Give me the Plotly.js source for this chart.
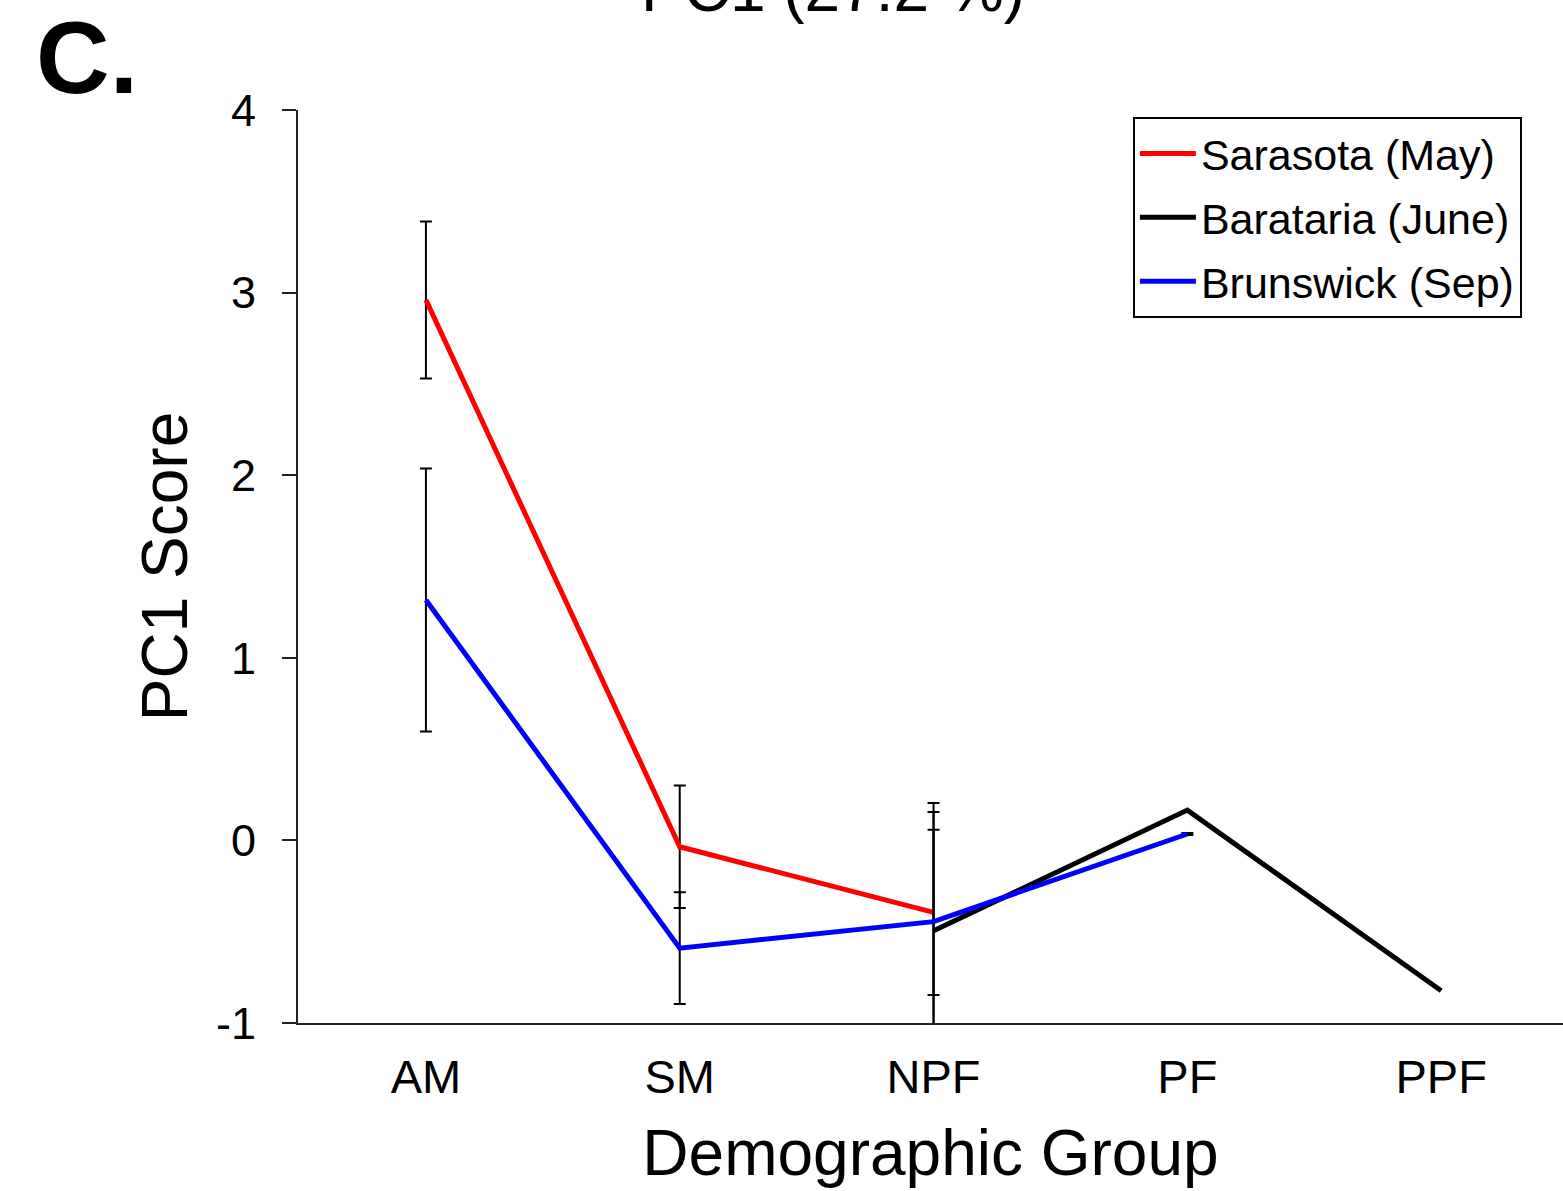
<!DOCTYPE html>
<html>
<head>
<meta charset="utf-8">
<script src="https://cdn.plot.ly/plotly-3.0.1.min.js"></script>
<style>
  html, body { margin: 0; padding: 0; background: #fff; }
  #chart { width: 1563px; height: 1191px; }
</style>
</head>
<body>
<div id="chart"></div>
<script>
// Category order on the x axis
const groups = ['AM', 'SM', 'NPF', 'PF', 'PPF'];

// Sarasota (May)
const sarasotaX = ['AM', 'SM', 'NPF'];
const sarasotaY = [2.96, -0.035, -0.394];
const sarasotaErr = [0.43, 0.335, 0.453];

// Barataria (June)  (no error bar drawn where NaN)
const baratariaX = ['NPF', 'PF', 'PPF'];
const baratariaY = [-0.495, 0.166, -0.823];
const baratariaErr = [0.70, NaN, NaN];

// Brunswick (Sep)
const brunswickX = ['AM', 'SM', 'NPF', 'PF'];
const brunswickY = [1.317, -0.59, -0.445, 0.035];
const brunswickErr = [0.72, 0.306, 0.60, 0.005];

const yTicks = [-1, 0, 1, 2, 3, 4];

const FONT = 'Liberation Sans, Arial, sans-serif';

function series(name, x, y, err, color, group) {
  return {
    type: 'scatter', mode: 'lines', name: name, legendgroup: group,
    x: x, y: y,
    line: { color: color, width: 5 },
    error_y: { type: 'data', array: err, visible: true, color: '#000', thickness: 2, width: 6 },
    cliponaxis: true
  };
}

const data = [
  series('Sarasota (May)', sarasotaX, sarasotaY, sarasotaErr, '#ff0000', 'g1'),
  series('Barataria (June)', baratariaX, baratariaY, baratariaErr, '#000000', 'g2'),
  series('Brunswick (Sep)', brunswickX, brunswickY, brunswickErr, '#0000ff', 'g3')
];

const layout = {
  width: 1563, height: 1191,
  margin: { l: 298, r: 0, t: 110, b: 168 },
  paper_bgcolor: '#fff', plot_bgcolor: '#fff',
  font: { family: FONT, color: '#000' },
  showlegend: true,
  legend: {
    x: 0.660, y: 1 + (110 - 117) / 913, xanchor: 'left', yanchor: 'top',
    bordercolor: '#000', borderwidth: 2, bgcolor: '#fff',
    font: { family: FONT, size: 43, color: '#000' },
    itemwidth: 56,
    traceorder: 'grouped', tracegroupgap: 5
  },
  xaxis: {
    type: 'category',
    categoryorder: 'array', categoryarray: groups,
    range: [-0.504, 4.48],
    showline: true, linecolor: '#222', linewidth: 2,
    ticks: '', showgrid: false, zeroline: false,
    tickfont: { family: FONT, size: 47, color: '#000' },
    ticklabelstandoff: 12,
    title: { text: 'Demographic Group', font: { family: FONT, size: 64, color: '#000' }, standoff: 28 }
  },
  yaxis: {
    range: [-1, 4],
    tickvals: yTicks, ticktext: yTicks.map(String),
    showline: true, linecolor: '#222', linewidth: 2,
    ticks: 'outside', ticklen: 14, tickwidth: 2, tickcolor: '#222',
    showgrid: false, zeroline: false,
    tickfont: { family: FONT, size: 45, color: '#000' },
    ticklabelstandoff: 17,
    title: { text: 'PC1 Score', font: { family: FONT, size: 64, color: '#000' }, standoff: 8 }
  },
  annotations: [
    {
      text: 'PC1 (27.2 %)', xref: 'paper', yref: 'paper',
      x: 0.423, y: 1.0909, xanchor: 'center', yanchor: 'bottom',
      showarrow: false, font: { family: FONT, size: 64, color: '#000' }
    },
    {
      text: '<b>C.</b>', xref: 'paper', yref: 'paper',
      x: (34 - 298) / 1265, y: 1 + (110 - 117) / 913, xanchor: 'left', yanchor: 'bottom',
      showarrow: false, font: { family: FONT, size: 102, color: '#000' }
    }
  ]
};

Plotly.newPlot('chart', data, layout, { displayModeBar: false, staticPlot: true });
</script>
</body>
</html>
